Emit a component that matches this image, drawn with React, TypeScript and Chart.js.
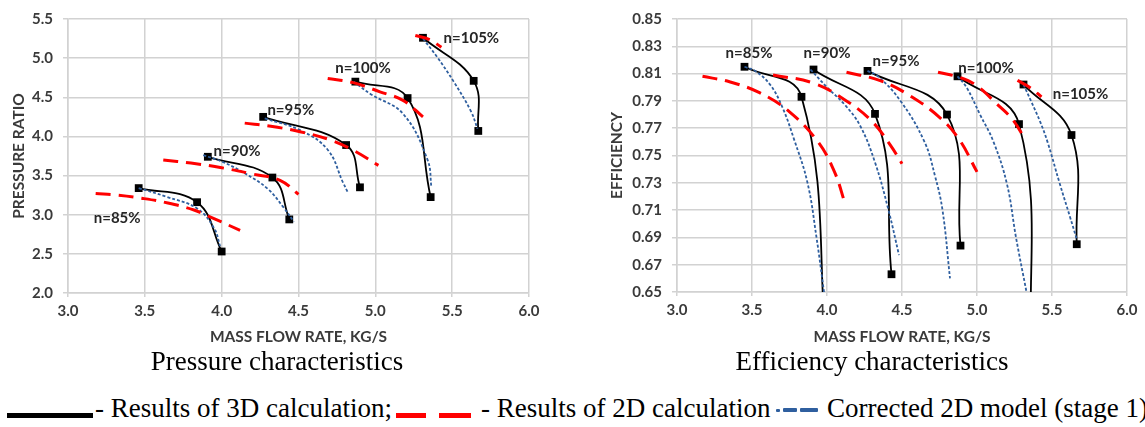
import React, { useEffect, useRef } from 'react';
import { Chart, registerables } from 'chart.js';

Chart.register(...registerables);

// ---------- DATA ----------
const speedLabels = ['n=85%', 'n=90%', 'n=95%', 'n=100%', 'n=105%'];

// Pressure ratio vs mass flow rate [kg/s, PR]
const pressure3D = [
  [[3.46, 3.34], [3.84, 3.16], [4.0, 2.53]],
  [[3.91, 3.74], [4.33, 3.475], [4.44, 2.94]],
  [[4.27, 4.25], [4.81, 3.89], [4.9, 3.35]],
  [[4.87, 4.7], [5.21, 4.49], [5.36, 3.225]],
  [[5.31, 5.26], [5.64, 4.71], [5.67, 4.07]],
];
const pressure2D = [
  [[3.18, 3.27], [3.32, 3.25], [3.48, 3.21], [3.65, 3.15], [3.82, 3.06], [3.95, 2.95], [4.12, 2.8]],
  [[3.62, 3.7], [3.8, 3.66], [4.0, 3.6], [4.2, 3.52], [4.38, 3.44], [4.5, 3.26]],
  [[4.15, 4.17], [4.32, 4.13], [4.51, 4.06], [4.7, 3.96], [4.85, 3.83], [5.02, 3.63]],
  [[4.69, 4.74], [4.85, 4.69], [5.03, 4.57], [5.18, 4.46], [5.31, 4.25]],
  [[5.26, 5.29], [5.35, 5.24], [5.43, 5.14]],
];
const pressureCorr = [
  [[3.46, 3.34], [3.64, 3.23], [3.84, 3.08], [3.95, 2.83], [3.99, 2.6]],
  [[3.88, 3.76], [4.0, 3.68], [4.15, 3.53], [4.3, 3.33], [4.4, 3.1], [4.47, 2.91]],
  [[4.28, 4.23], [4.51, 4.08], [4.69, 3.83], [4.79, 3.41], [4.82, 3.29]],
  [[4.86, 4.7], [4.97, 4.54], [5.18, 4.29], [5.34, 3.7], [5.365, 3.35]],
  [[5.31, 5.25], [5.4, 5.02], [5.51, 4.7], [5.62, 4.33], [5.665, 4.1]],
];
const pressureLabelAt = [[3.32, 2.95], [4.1, 3.81], [4.45, 4.33], [4.92, 4.875], [5.625, 5.25]];

// Efficiency vs mass flow rate [kg/s, eff]
const efficiency3D = [
  [[3.45, 0.815], [3.83, 0.793], [4.0, 0.6]],
  [[3.91, 0.813], [4.32, 0.7805], [4.43, 0.663]],
  [[4.27, 0.812], [4.8, 0.78], [4.89, 0.684]],
  [[4.87, 0.808], [5.28, 0.773], [5.365, 0.6]],
  [[5.31, 0.802], [5.63, 0.765], [5.665, 0.685]],
];
const efficiency2D = [
  [[3.17, 0.808], [3.35, 0.804], [3.55, 0.796], [3.75, 0.782], [3.94, 0.76], [4.05, 0.738], [4.12, 0.715]],
  [[3.64, 0.809], [3.91, 0.803], [4.13, 0.79], [4.3, 0.775], [4.42, 0.758], [4.5, 0.744]],
  [[4.13, 0.811], [4.35, 0.805], [4.55, 0.794], [4.75, 0.778], [4.88, 0.762], [5.0, 0.738]],
  [[4.74, 0.811], [4.89, 0.807], [5.0, 0.801], [5.13, 0.788], [5.24, 0.776], [5.32, 0.762]],
  [[5.27, 0.805], [5.35, 0.8], [5.43, 0.793]],
];
const efficiencyCorr = [
  [[3.45, 0.815], [3.52, 0.812], [3.62, 0.802], [3.7, 0.786], [3.78, 0.762], [3.87, 0.73], [3.93, 0.69], [3.98, 0.65]],
  [[3.89, 0.813], [4.0, 0.8], [4.12, 0.787], [4.22, 0.772], [4.32, 0.745], [4.41, 0.71], [4.48, 0.677]],
  [[4.27, 0.812], [4.34, 0.808], [4.49, 0.79], [4.65, 0.76], [4.72, 0.735], [4.77, 0.71], [4.82, 0.66]],
  [[4.87, 0.808], [4.93, 0.8], [5.02, 0.78], [5.11, 0.76], [5.2, 0.729], [5.26, 0.69], [5.33, 0.65]],
  [[5.31, 0.802], [5.36, 0.79], [5.42, 0.775], [5.47, 0.76], [5.55, 0.73], [5.62, 0.705], [5.667, 0.688]],
];
const efficiencyLabelAt = [[3.48, 0.825], [4.0, 0.825], [4.46, 0.819], [5.06, 0.814], [5.69, 0.795]];

// ---------- STYLE ----------
const FONT = 'Lato, "Open Sans", sans-serif';
const TICK_COLOR = '#3a3a3a';
const GRID = '#d2d2d2';
const RED = '#ff0000';
const BLUE = '#2f5f9f';

const labelPlugin = {
  id: 'speedLabels',
  afterDatasetsDraw(chart: any, _args: any, opts: any) {
    const { ctx } = chart;
    const xs = chart.scales.x;
    const ys = chart.scales.y;
    ctx.save();
    ctx.font = `bold 15px ${FONT}`;
    ctx.fillStyle = '#262626';
    ctx.textAlign = 'center';
    ctx.textBaseline = 'middle';
    (opts.items || []).forEach((it: any) => {
      ctx.fillText(it.text, xs.getPixelForValue(it.x), ys.getPixelForValue(it.y));
    });
    ctx.restore();
  },
};

const toXY = (c: number[][]) => c.map(([x, y]) => ({ x, y }));

function buildDatasets(d3: number[][][], d2: number[][][], dc: number[][][]) {
  const out: any[] = [];
  d2.forEach((c) =>
    out.push({
      data: toXY(c),
      borderColor: RED,
      borderWidth: 3,
      borderDash: [15, 8],
      pointRadius: 0,
      tension: 0.4,
      fill: false,
    })
  );
  dc.forEach((c) =>
    out.push({
      data: toXY(c),
      borderColor: BLUE,
      borderWidth: 1.8,
      borderDash: [3, 2],
      pointRadius: 0,
      tension: 0.4,
      fill: false,
    })
  );
  d3.forEach((c) =>
    out.push({
      data: toXY(c),
      borderColor: '#000',
      borderWidth: 1.8,
      pointStyle: 'rect',
      pointRadius: 5.5,
      pointBackgroundColor: '#000',
      pointBorderColor: '#000',
      pointBorderWidth: 0,
      tension: 0.4,
      fill: false,
    })
  );
  return out;
}

interface Cfg {
  d3: number[][][];
  d2: number[][][];
  dc: number[][][];
  labelAt: number[][];
  yMin: number;
  yMax: number;
  yStep: number;
  yDigits: number;
  yTitle: string;
  yAxisWidth: number;
  yTitlePad: number;
  padTop: number;
  padRight: number;
  xAxisHeight: number;
}

function makeConfig(c: Cfg): any {
  const tickFont = { family: FONT, size: 15, weight: 'bold' as const };
  const titleFont = { family: FONT, size: 15.5, weight: 'bold' as const };
  return {
    type: 'line',
    data: { datasets: buildDatasets(c.d3, c.d2, c.dc) },
    options: {
      animation: false,
      responsive: false,
      maintainAspectRatio: false,
      layout: { padding: { top: c.padTop, right: c.padRight, left: 0, bottom: 0 } },
      plugins: {
        legend: { display: false },
        tooltip: { enabled: false },
        speedLabels: {
          items: speedLabels.map((t, i) => ({ text: t, x: c.labelAt[i][0], y: c.labelAt[i][1] })),
        },
      },
      scales: {
        x: {
          type: 'linear',
          min: 3,
          max: 6,
          ticks: {
            stepSize: 0.5,
            callback: (v: number) => Number(v).toFixed(1),
            font: tickFont,
            color: TICK_COLOR,
            padding: 5,
            maxRotation: 0,
          },
          grid: { color: GRID, lineWidth: 1.5, tickLength: 4 },
          border: { color: GRID, width: 1.5 },
          title: {
            display: true,
            text: 'MASS FLOW RATE, KG/S',
            font: titleFont,
            color: TICK_COLOR,
            padding: { top: 0, bottom: 11 },
          },
          afterFit: (s: any) => {
            s.height = c.xAxisHeight;
          },
        },
        y: {
          type: 'linear',
          min: c.yMin,
          max: c.yMax,
          ticks: {
            stepSize: c.yStep,
            callback: (v: number) => Number(v).toFixed(c.yDigits),
            font: tickFont,
            color: TICK_COLOR,
            padding: 10,
          },
          grid: { color: GRID, lineWidth: 1.5, tickLength: 5 },
          border: { color: GRID, width: 1.5 },
          title: {
            display: true,
            text: c.yTitle,
            font: titleFont,
            color: TICK_COLOR,
            padding: { top: c.yTitlePad, bottom: 0 },
          },
          afterFit: (s: any) => {
            s.width = c.yAxisWidth;
          },
        },
      },
    },
    plugins: [labelPlugin],
  };
}

function ChartCanvas({ cfg, width, height, left }: { cfg: Cfg; width: number; height: number; left: number }) {
  const ref = useRef<HTMLCanvasElement | null>(null);
  useEffect(() => {
    if (!ref.current) return;
    const chart = new Chart(ref.current, makeConfig(cfg));
    return () => chart.destroy();
  }, []);
  return (
    <canvas
      ref={ref}
      width={width}
      height={height}
      style={{ position: 'absolute', left, top: 0, width, height }}
    />
  );
}

const pressureCfg: Cfg = {
  d3: pressure3D,
  d2: pressure2D,
  dc: pressureCorr,
  labelAt: pressureLabelAt,
  yMin: 2,
  yMax: 5.5,
  yStep: 0.5,
  yDigits: 1,
  yTitle: 'PRESSURE RATIO',
  yAxisWidth: 68,
  yTitlePad: 10,
  padTop: 13,
  padRight: 31,
  xAxisHeight: 64,
};

const efficiencyCfg: Cfg = {
  d3: efficiency3D,
  d2: efficiency2D,
  dc: efficiencyCorr,
  labelAt: efficiencyLabelAt,
  yMin: 0.65,
  yMax: 0.85,
  yStep: 0.02,
  yDigits: 2,
  yTitle: 'EFFICIENCY',
  yAxisWidth: 97,
  yTitlePad: 28,
  padTop: 14,
  padRight: 18,
  xAxisHeight: 65,
};

const serif = '"Liberation Serif", "Times New Roman", serif';

export default function App() {
  const textStyle: React.CSSProperties = {
    position: 'absolute',
    fontFamily: serif,
    fontSize: 27,
    lineHeight: '27px',
    color: '#000',
    whiteSpace: 'nowrap',
  };
  return (
    <div
      style={{
        position: 'fixed',
        left: 0,
        top: 0,
        width: 1145,
        height: 427,
        background: '#fff',
        overflow: 'hidden',
      }}
    >
      <ChartCanvas cfg={pressureCfg} width={560} height={357} left={0} />
      <ChartCanvas cfg={efficiencyCfg} width={565} height={357} left={580} />

      <div style={{ ...textStyle, left: 77, width: 400, textAlign: 'center', top: 348 }}>
        Pressure characteristics
      </div>
      <div style={{ ...textStyle, left: 672, width: 400, textAlign: 'center', top: 348 }}>
        Efficiency characteristics
      </div>

      {/* legend */}
      <div style={{ position: 'absolute', left: 7, top: 413, width: 86, height: 5, background: '#000' }} />
      <div style={{ ...textStyle, left: 95, top: 395 }}>- Results of 3D calculation;</div>
      <div style={{ position: 'absolute', left: 396, top: 413, width: 30, height: 5, background: RED }} />
      <div style={{ position: 'absolute', left: 439, top: 413, width: 32, height: 5, background: RED }} />
      <div style={{ ...textStyle, left: 481, top: 395 }}>- Results of 2D calculation</div>
      <div style={{ position: 'absolute', left: 776, top: 409, width: 4, height: 3, background: BLUE, borderRadius: 1 }} />
      <div style={{ position: 'absolute', left: 783, top: 408, width: 14, height: 4, background: BLUE, borderRadius: 1 }} />
      <div style={{ position: 'absolute', left: 800, top: 408, width: 18, height: 4, background: BLUE, borderRadius: 1 }} />
      <div style={{ ...textStyle, left: 827, top: 395 }}>Corrected 2D model (stage 1)</div>
    </div>
  );
}
